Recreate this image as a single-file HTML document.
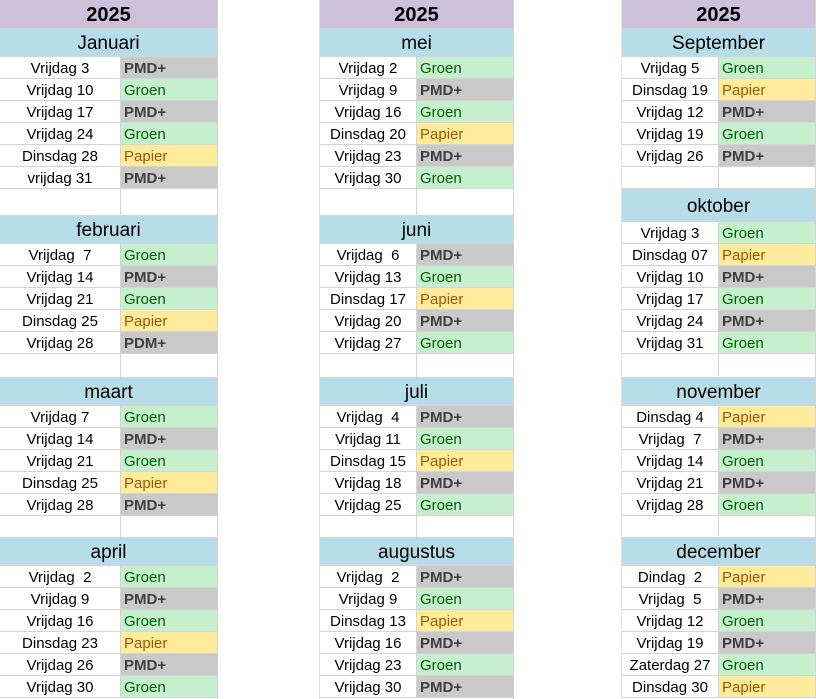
<!DOCTYPE html>
<html><head><meta charset="utf-8">
<style>
body{margin:0;width:816px;height:699px;overflow:hidden;background:#fff;font-family:"Liberation Sans",Arial,sans-serif;position:relative}
.c{position:absolute;box-sizing:border-box;border-right:1px solid #d4d4d4;border-bottom:1px solid #d4d4d4;font-size:15px;line-height:24px;white-space:pre;overflow:hidden}
.vl{position:absolute;top:0;height:699px;width:1px;background:#e2e2e2}
.yr{background:#ccc0da;font-weight:bold;font-size:20px;text-align:center;line-height:30px;color:#000}
.mh{background:#b7dee8;font-size:19px;text-align:center;color:#000}
.lab{text-align:center;color:#000}
.G{background:#c6efce;color:#006100;padding-left:3px}
.P{background:#ffeb9c;color:#9c5700;padding-left:3px}
.M{background:#c9c9c9;color:#3f3f3f;font-weight:bold;padding-left:3px}
</style></head><body>
<script>
const cols=[[0,121,218],[320,417,514],[622,719,816]];
const blocks=[
[0,"Januari",29,57,[["Vrijdag 3","M"],["Vrijdag 10","G"],["Vrijdag 17","M"],["Vrijdag 24","G"],["Dinsdag 28","P"],["vrijdag 31","M"]]],
[0,"februari",216,244,[["Vrijdag  7","G"],["Vrijdag 14","M"],["Vrijdag 21","G"],["Dinsdag 25","P"],["Vrijdag 28","M","PDM+"]]],
[0,"maart",378,406,[["Vrijdag 7","G"],["Vrijdag 14","M"],["Vrijdag 21","G"],["Dinsdag 25","P"],["Vrijdag 28","M"]]],
[0,"april",538,566,[["Vrijdag  2","G"],["Vrijdag 9","M"],["Vrijdag 16","G"],["Dinsdag 23","P"],["Vrijdag 26","M"],["Vrijdag 30","G"]]],
[1,"mei",29,57,[["Vrijdag 2","G"],["Vrijdag 9","M"],["Vrijdag 16","G"],["Dinsdag 20","P"],["Vrijdag 23","M"],["Vrijdag 30","G"]]],
[1,"juni",216,244,[["Vrijdag  6","M"],["Vrijdag 13","G"],["Dinsdag 17","P"],["Vrijdag 20","M"],["Vrijdag 27","G"]]],
[1,"juli",378,406,[["Vrijdag  4","M"],["Vrijdag 11","G"],["Dinsdag 15","P"],["Vrijdag 18","M"],["Vrijdag 25","G"]]],
[1,"augustus",538,566,[["Vrijdag  2","M"],["Vrijdag 9","G"],["Dinsdag 13","P"],["Vrijdag 16","M"],["Vrijdag 23","G"],["Vrijdag 30","M"]]],
[2,"September",29,57,[["Vrijdag 5","G"],["Dinsdag 19","P"],["Vrijdag 12","M"],["Vrijdag 19","G"],["Vrijdag 26","M"]]],
[2,"oktober",189,222,[["Vrijdag 3","G"],["Dinsdag 07","P"],["Vrijdag 10","M"],["Vrijdag 17","G"],["Vrijdag 24","M"],["Vrijdag 31","G"]]],
[2,"november",378,406,[["Dinsdag 4","P"],["Vrijdag  7","M"],["Vrijdag 14","G"],["Vrijdag 21","M"],["Vrijdag 28","G"]]],
[2,"december",538,566,[["Dindag  2","P"],["Vrijdag  5","M"],["Vrijdag 12","G"],["Vrijdag 19","M"],["Zaterdag 27","G"],["Dinsdag 30","P"]]]
];
const names={G:"Groen",P:"Papier",M:"PMD+"};
function cell(x,y,w,h,cls,txt,name){
  const d=document.createElement('div');
  d.className='c '+cls;
  d.style.left=x+'px';d.style.top=y+'px';d.style.width=w+'px';d.style.height=h+'px';
  if(cls.indexOf('mh')>=0)d.style.lineHeight=(h+2)+'px';
  d.textContent=txt;
  
  
  document.body.appendChild(d);
}
[218,320,514,622].forEach(x=>{const v=document.createElement('div');v.className='vl';v.style.left=(x-1)+'px';


document.body.appendChild(v);});
cols.forEach((c,i)=>cell(c[0],0,c[2]-c[0],29,'yr','2025','year-header'));
blocks.forEach(b=>{
  const c=cols[b[0]];
  cell(c[0],b[2],c[2]-c[0],b[3]-b[2],'mh',b[1],'month-header');
  b[4].forEach((r,i)=>{
    const y=b[3]+i*22;
    cell(c[0],y,c[1]-c[0],22,'lab',r[0],'date-label');
    cell(c[1],y,c[2]-c[1],22,r[1],r[2]||names[r[1]],'waste-type');
  });
});
[[0,189,216],[0,354,378],[0,516,538],[1,189,216],[1,354,378],[1,516,538],[2,167,189],[2,354,378],[2,516,538]].forEach(g=>{
  const c=cols[g[0]];
  cell(c[0],g[1],c[1]-c[0],g[2]-g[1],'','','empty-cell');
  cell(c[1],g[1],c[2]-c[1],g[2]-g[1],'','','empty-cell');
});
</script>
</body></html>
